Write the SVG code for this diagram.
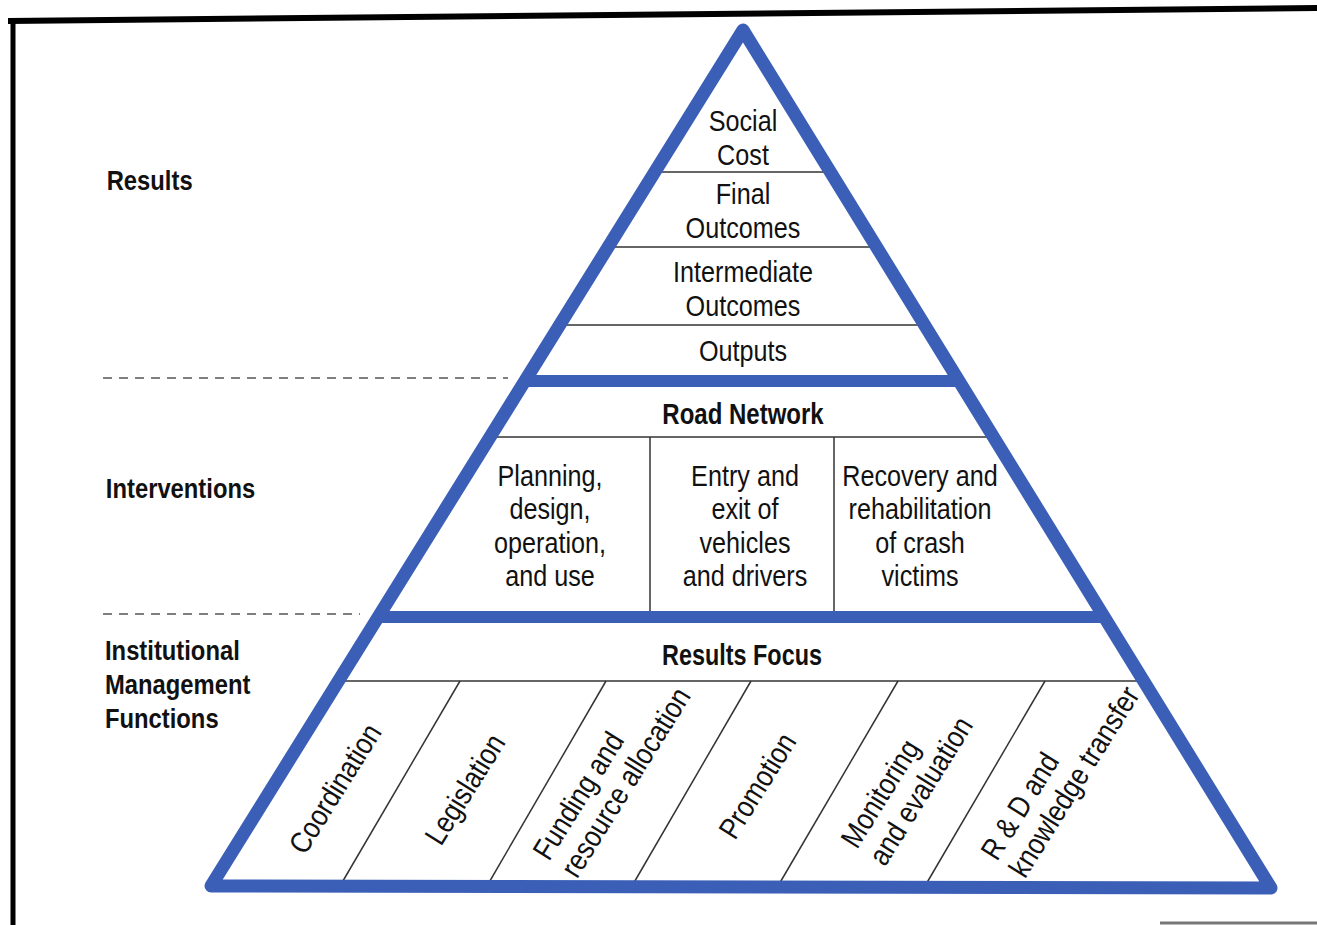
<svg xmlns="http://www.w3.org/2000/svg" width="1317" height="925" viewBox="0 0 1317 925">
<style>
.t{font-family:"Liberation Sans",Arial,sans-serif;font-size:30px;fill:#111;text-anchor:middle}
.b{font-weight:bold}
.l{font-family:"Liberation Sans",Arial,sans-serif;font-size:28px;font-weight:bold;fill:#111}
.r{font-family:"Liberation Sans",Arial,sans-serif;font-size:30px;fill:#111}
.thin{stroke:#333;stroke-width:1.5;fill:none}
.band{stroke:#3b5fb7;stroke-width:12;fill:none}
.dash{stroke:#555;stroke-width:1.5;stroke-dasharray:9 7;fill:none}
</style>
<rect x="0" y="0" width="1317" height="925" fill="#fff"/>
<g id="frame">
<line x1="8" y1="21" x2="1317" y2="8" stroke="#000" stroke-width="6"/>
<line x1="13" y1="18" x2="13" y2="925" stroke="#000" stroke-width="5"/>
<line x1="1160" y1="923" x2="1317" y2="923" stroke="#777" stroke-width="3"/>
</g>
<g id="connectors">
<line class="dash" x1="103" y1="378" x2="508" y2="378"/>
<line class="dash" x1="103" y1="614" x2="360" y2="614"/>
<line class="thin" x1="655" y1="172" x2="830" y2="172"/>
<line class="thin" x1="608" y1="247" x2="877" y2="247"/>
<line class="thin" x1="560" y1="325" x2="925" y2="325"/>
<line class="thin" x1="490" y1="437" x2="994" y2="437"/>
<line class="thin" x1="650" y1="437" x2="650" y2="617"/>
<line class="thin" x1="834" y1="437" x2="834" y2="617"/>
<line class="thin" x1="338" y1="681" x2="1144" y2="681"/>
<line class="thin" x1="460" y1="681" x2="340" y2="886"/>
<line class="thin" x1="606" y1="681" x2="487" y2="886"/>
<line class="thin" x1="751" y1="681" x2="632" y2="886"/>
<line class="thin" x1="898" y1="681" x2="778" y2="886"/>
<line class="thin" x1="1045" y1="681" x2="925" y2="886"/>
<line class="band" x1="525" y1="381" x2="959" y2="381"/>
<line class="band" x1="378" y1="617" x2="1104" y2="617"/>
<polygon points="743,30 1271,888 211,886" fill="none" stroke="#3b5fb7" stroke-width="13" stroke-linejoin="round"/>
</g>
<g id="labels" transform="translate(105,0) scale(0.85,1)">
<text class="l" x="2" y="190">Results</text>
<text class="l" x="1" y="498">Interventions</text>
<text class="l" x="0" y="660">Institutional</text>
<text class="l" x="0" y="694">Management</text>
<text class="l" x="0" y="728">Functions</text>
</g>
<g id="social-cost" transform="translate(743,0) scale(0.84,1)"><text class="t" x="0" y="131">Social</text><text class="t" x="0" y="165">Cost</text></g>
<g id="final-outcomes" transform="translate(743,0) scale(0.84,1)"><text class="t" x="0" y="204">Final</text><text class="t" x="0" y="238">Outcomes</text></g>
<g id="intermediate-outcomes" transform="translate(743,0) scale(0.84,1)"><text class="t" x="0" y="282">Intermediate</text><text class="t" x="0" y="316">Outcomes</text></g>
<g id="outputs" transform="translate(743,0) scale(0.84,1)"><text class="t" x="0" y="361">Outputs</text></g>
<g id="road-network" transform="translate(743,0) scale(0.8,1)"><text class="t b" x="0" y="424">Road Network</text></g>
<g id="planning" transform="translate(550,0) scale(0.84,1)"><text class="t" x="0" y="486">Planning,</text><text class="t" x="0" y="519">design,</text><text class="t" x="0" y="553">operation,</text><text class="t" x="0" y="586">and use</text></g>
<g id="entry-exit" transform="translate(745,0) scale(0.84,1)"><text class="t" x="0" y="486">Entry and</text><text class="t" x="0" y="519">exit of</text><text class="t" x="0" y="553">vehicles</text><text class="t" x="0" y="586">and drivers</text></g>
<g id="recovery" transform="translate(920,0) scale(0.84,1)"><text class="t" x="0" y="486">Recovery and</text><text class="t" x="0" y="519">rehabilitation</text><text class="t" x="0" y="553">of crash</text><text class="t" x="0" y="586">victims</text></g>
<g id="results-focus" transform="translate(742,0) scale(0.78,1)"><text class="t b" x="0" y="665">Results Focus</text></g>
<g id="coordination"><text class="r" transform="translate(305,856) rotate(-58) scale(0.86,1)">Coordination</text></g>
<g id="legislation"><text class="r" transform="translate(441,847) rotate(-58) scale(0.86,1)">Legislation</text></g>
<g id="funding"><text class="r" transform="translate(549,862) rotate(-58) scale(0.86,1)"><tspan x="0" y="0">Funding and</tspan><tspan x="0" y="33">resource allocation</tspan></text></g>
<g id="promotion"><text class="r" transform="translate(735,841) rotate(-58) scale(0.86,1)">Promotion</text></g>
<g id="monitoring"><text class="r" transform="translate(857,850) rotate(-58) scale(0.86,1)"><tspan x="0" y="0">Monitoring</tspan><tspan x="0" y="33">and evaluation</tspan></text></g>
<g id="rd"><text class="r" transform="translate(997,862) rotate(-58) scale(0.86,1)"><tspan x="0" y="0">R &amp; D and</tspan><tspan x="0" y="33">knowledge transfer</tspan></text></g>
</svg>
